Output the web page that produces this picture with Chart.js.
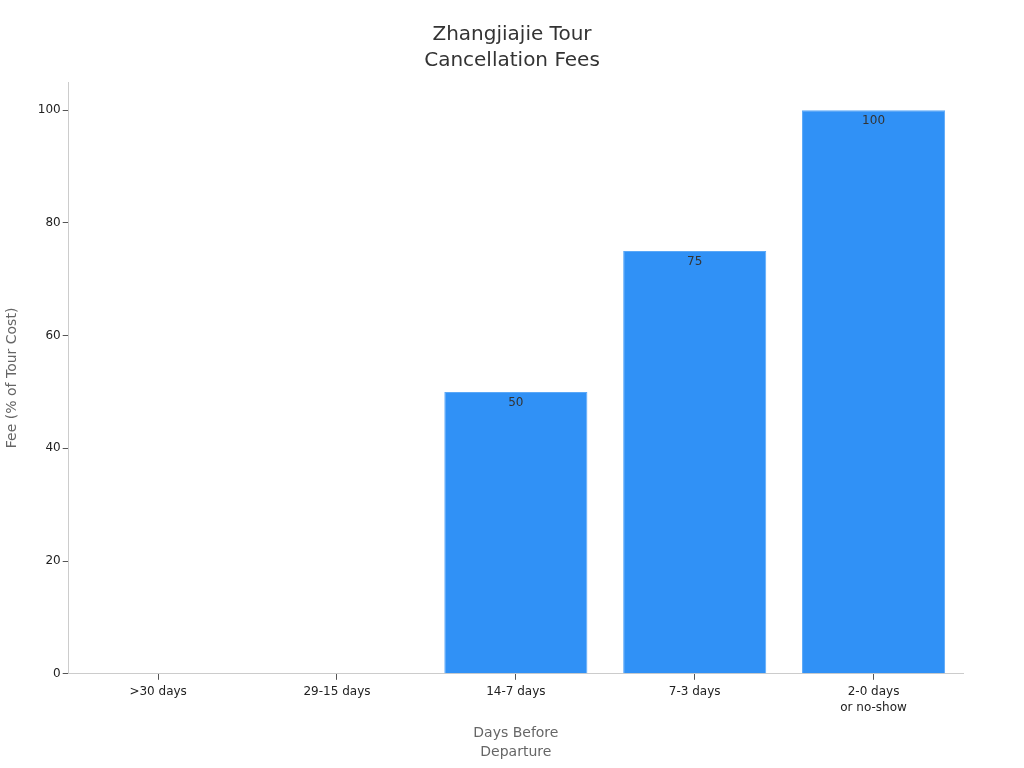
<!DOCTYPE html>
<html>
<head>
<meta charset="utf-8">
<script src="https://cdn.jsdelivr.net/npm/chart.js@4"></script>
<style>
html,body{margin:0;padding:0;background:#fff}
#wrap{width:1024px;height:768px}
</style>
</head>
<body>
<div id="wrap"><canvas id="feeChart"></canvas></div>
<script>
const categories=[">30 days","29-15 days","14-7 days","7-3 days",["2-0 days","or no-show"]]
const fees=[0,0,50,75,100]
const yTicks=[0,20,40,60,80,100]

Chart.defaults.font.family="'DejaVu Sans', sans-serif"
Chart.defaults.color="#222"

// value labels just inside the top of each bar
const barLabels={
id:"barLabels",
afterDatasetsDraw(chart){
let ctx=chart.ctx
let meta=chart.getDatasetMeta(0)
ctx.save()
ctx.font="12px 'DejaVu Sans', sans-serif"
ctx.fillStyle="#333"
ctx.textAlign="center"
ctx.textBaseline="middle"
meta.data.forEach((bar,i)=>{
if(fees[i]>0) ctx.fillText(String(fees[i]),bar.x,bar.y+11)
})
ctx.restore()
}
}

new Chart(document.getElementById("feeChart"),{
type:"bar",
data:{
labels:categories,
datasets:[{
data:fees,
backgroundColor:"#3091f6",
borderColor:"#5aa8f8",
borderWidth:1,
barPercentage:0.8,
categoryPercentage:1
}]
},
options:{
responsive:true,
maintainAspectRatio:false,
animation:false,
layout:{padding:{left:0,right:0,top:10,bottom:2}},
plugins:{
legend:{display:false},
tooltip:{enabled:false},
title:{
display:true,
text:["Zhangjiajie Tour","Cancellation Fees"],
color:"#333",
font:{size:20,weight:"normal",lineHeight:1.3},
padding:{top:12,bottom:8}
}
},
scales:{
x:{
grid:{display:true,offset:false,drawOnChartArea:false,drawTicks:true,tickLength:6,color:"#555"},
border:{display:true,color:"#ccc"},
ticks:{font:{size:12,lineHeight:1.35},color:"#222",padding:4},
title:{display:true,text:["Days Before","Departure"],color:"#666",font:{size:14,lineHeight:1.35},padding:{top:4}}
},
y:{
min:0,
max:105,
afterBuildTicks(axis){axis.ticks=yTicks.map(v=>({value:v}))},
grid:{display:true,drawOnChartArea:false,drawTicks:true,tickLength:6,color:"#555"},
border:{display:true,color:"#ccc"},
ticks:{font:{size:12},color:"#222",padding:2},
title:{display:true,text:"Fee (% of Tour Cost)",color:"#666",font:{size:14},padding:{bottom:15}}
},
// empty right-side axis only reserves the right margin
yRight:{
position:"right",
display:true,
grid:{display:false},
border:{display:false},
ticks:{display:false},
afterFit(s){s.width=61}
}
}
},
plugins:[barLabels]
})
</script>
</body>
</html>
